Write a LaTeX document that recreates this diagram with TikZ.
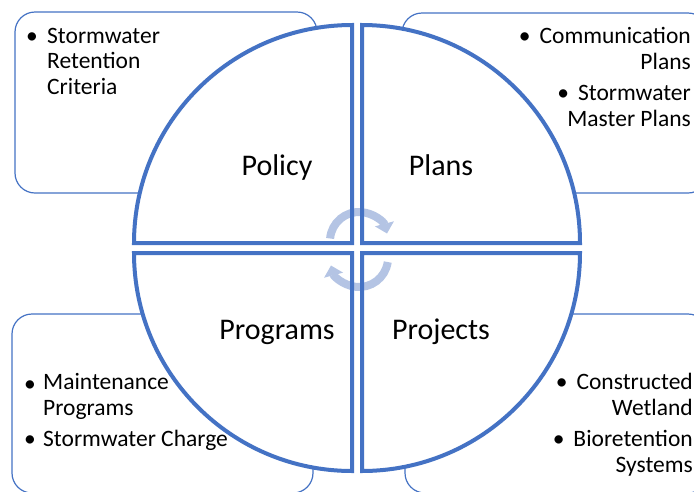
\documentclass[tikz,border=0pt]{standalone}
\usepackage{fontspec}
\setmainfont{Carlito}
\usetikzlibrary{arrows.meta}
\definecolor{quadblue}{HTML}{4472C4}
\definecolor{turnblue}{HTML}{B4C4E4}

\begin{document}
\begin{tikzpicture}[x=1pt,y=-1pt,
   note/.style={draw=quadblue,line width=1.2pt,rounded corners=20pt,fill=white},
   quad/.style={draw=quadblue,line width=4pt,line join=miter},
   heading/.style={anchor=base,inner sep=0pt,font=\fontsize{30}{36}\selectfont},
   item/.style={anchor=base west,align=left,inner sep=0pt,font=\fontsize{23.5}{25.5}\selectfont},
   ritem/.style={anchor=base east,align=right,inner sep=0pt,font=\fontsize{23.5}{25.5}\selectfont},
   dot/.style={anchor=base,inner sep=0pt,font=\fontsize{23.5}{25.5}\selectfont},
   turn arrow/.style={draw=turnblue,line width=8pt,-{Triangle[width=19pt,length=10pt]}}]

  \useasboundingbox (0,0) rectangle (694,491);
  \clip (0,0) rectangle (694,491);

  % the four notes behind the circle
  \draw[note] (15,12) rectangle (317,193);
  \draw[note] (402,13) rectangle (708,193);
  \draw[note] (12,314) rectangle (313,493);
  \draw[note] (405,314) rectangle (708,493);

  % quadrants
  \foreach \cx/\cy/\a in {352/243/180,362/243/270,362/253/0,352/253/90}
    \fill[white] (\cx,\cy) -- ++(\a:218) arc[start angle=\a,delta angle=90,radius=218] -- cycle;

  \draw[turn arrow] (359,241) ++(-175:29) arc[start angle=-175,end angle=-15,radius=29];
  \draw[turn arrow] (359,258) ++(8:29) arc[start angle=8,end angle=165,radius=29];

  \foreach \cx/\cy/\a in {352/243/180,362/243/270,362/253/0,352/253/90}
    \draw[quad] (\cx,\cy) -- ++(\a:218) arc[start angle=\a,delta angle=90,radius=218] -- cycle;

  \node[heading] (policy) at (277,175) {Policy};
  \node[heading] (plans) at (441,175) {Plans};
  \node[heading] (programs) at (277,339) {Programs};
  \node[heading] (projects) at (441,339) {Projects};

  % bullets (base = last line)
  \node[dot] (d1) at (32,43) {•};
  \node[item] (criteria) at (47,94) {Stormwater\\Retention\\Criteria};

  \node[ritem] (comm) at (691,69) {•\hspace{9pt}Communication\\Plans};
  \node[ritem] (master) at (691,126) {•\hspace{9pt}Stormwater\\Master Plans};

  \node[dot] (d2) at (30,391) {•};
  \node[item] (maint) at (43,415) {Maintenance\\Programs};
  \node[dot] (d3) at (30,446) {•};
  \node[item] (charge) at (43,446) {Stormwater Charge};

  \node[ritem] (wetland) at (693,415) {•\hspace{9pt}Constructed\\Wetland};
  \node[ritem] (bioret) at (693,472) {•\hspace{9pt}Bioretention\\Systems};
\end{tikzpicture}
\end{document}
